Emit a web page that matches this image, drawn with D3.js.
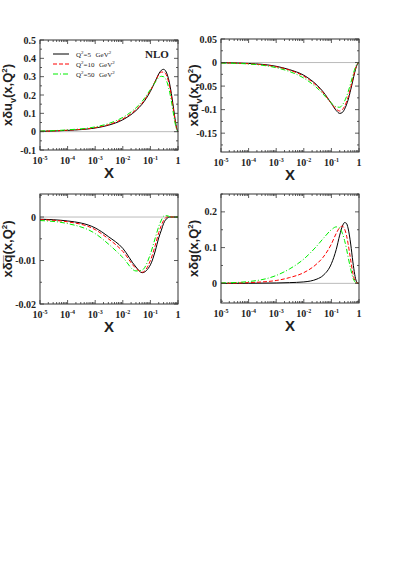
<!DOCTYPE html>
<html>
<head>
<meta charset="utf-8">
<script src="https://cdn.jsdelivr.net/npm/d3@7"></script>
<style>
  body { margin: 0; background: #fff; }
  svg { display: block; }
  .tick-lbl { font-family: "Liberation Serif", serif; font-size: 10px; font-weight: bold; fill: #222; }
  .ylab { font-family: "Liberation Sans", Arial, sans-serif; font-size: 13px; font-weight: bold; fill: #222; }
  .xlab { font-family: "Liberation Sans", Arial, sans-serif; font-size: 15px; font-weight: bold; fill: #222; }
  .leg { font-family: "Liberation Serif", serif; font-size: 7px; fill: #222; }
</style>
</head>
<body>
<svg width="399" height="564"></svg>
<script>
// x grid shared by all curves
var xs = [1e-5, 1e-4, 1e-3, 3e-3, 1e-2, 3e-2, 0.05, 0.1, 0.15, 0.2, 0.25, 0.3, 0.35, 0.4, 0.5, 0.6, 0.7, 0.8, 0.9, 1];

var seriesNames = ["Q2=5", "Q2=10", "Q2=50"];

// x delta u_v
var uv5  = [0.002, 0.007, 0.02, 0.035, 0.065, 0.115, 0.15, 0.22, 0.275, 0.315, 0.335, 0.34, 0.333, 0.315, 0.26, 0.19, 0.12, 0.06, 0.018, 0];
var uv10 = [0.002, 0.008, 0.022, 0.038, 0.07, 0.12, 0.155, 0.225, 0.275, 0.31, 0.325, 0.325, 0.318, 0.3, 0.245, 0.175, 0.108, 0.052, 0.015, 0];
var uv50 = [0.003, 0.01, 0.026, 0.044, 0.078, 0.13, 0.165, 0.23, 0.27, 0.295, 0.302, 0.3, 0.29, 0.27, 0.215, 0.15, 0.088, 0.04, 0.01, 0];

// x delta d_v
var dv5  = [-0.0005, -0.002, -0.008, -0.015, -0.027, -0.048, -0.062, -0.087, -0.102, -0.108, -0.106, -0.099, -0.09, -0.08, -0.058, -0.038, -0.021, -0.009, -0.002, 0];
var dv10 = [-0.0006, -0.0025, -0.009, -0.016, -0.029, -0.05, -0.064, -0.087, -0.099, -0.103, -0.1, -0.093, -0.084, -0.074, -0.053, -0.034, -0.018, -0.008, -0.002, 0];
var dv50 = [-0.001, -0.003, -0.011, -0.019, -0.033, -0.054, -0.067, -0.086, -0.094, -0.095, -0.09, -0.082, -0.073, -0.063, -0.044, -0.027, -0.014, -0.006, -0.0015, 0];

// x delta qbar
var qb5  = [-0.0005, -0.0009, -0.0025, -0.0045, -0.0072, -0.0115, -0.0128, -0.011, -0.0078, -0.0048, -0.003, -0.0015, -0.0007, -0.0003, 0, 0, 0, 0, 0, 0];
var qb10 = [-0.0006, -0.0011, -0.0029, -0.005, -0.0079, -0.0118, -0.0127, -0.01, -0.0065, -0.0036, -0.0019, -0.0008, -0.0002, 0, 0.0001, 0, 0, 0, 0, 0];
var qb50 = [-0.0008, -0.0015, -0.0038, -0.0062, -0.0093, -0.0124, -0.0122, -0.0085, -0.0048, -0.0022, -0.0007, 0.0002, 0.0003, 0.0003, 0.0001, 0, 0, 0, 0, 0];

// x delta g
var g5  = [0, 0.0003, 0.001, 0.002, 0.004, 0.012, 0.022, 0.055, 0.095, 0.135, 0.16, 0.17, 0.168, 0.155, 0.11, 0.06, 0.025, 0.006, 0.001, 0];
var g10 = [0.0003, 0.002, 0.008, 0.016, 0.03, 0.055, 0.073, 0.11, 0.14, 0.156, 0.16, 0.152, 0.135, 0.112, 0.065, 0.028, 0.009, 0.002, 0, 0];
var g50 = [0.001, 0.005, 0.022, 0.04, 0.068, 0.105, 0.125, 0.15, 0.158, 0.155, 0.14, 0.12, 0.098, 0.075, 0.04, 0.016, 0.005, 0.001, 0, 0];

var xTicks = [1e-5, 1e-4, 1e-3, 1e-2, 1e-1, 1];

var svg = d3.select("svg");

var styles = [
  {color: "#000", dash: null, width: 1},
  {color: "#ff0000", dash: "4,2", width: 1},
  {color: "#00ee00", dash: "5,2,1,2", width: 1}
];

function drawPanel(p) {
  var x = d3.scaleLog().domain([1e-5, 1]).range([p.x0, p.x1]);
  var y = d3.scaleLinear().domain(p.ydom).range([p.y1, p.y0]);
  var g = svg.append("g");

  // zero line
  g.append("line")
    .attr("x1", p.x0).attr("x2", p.x1)
    .attr("y1", y(0)).attr("y2", y(0))
    .attr("stroke", "#aaa").attr("stroke-width", 0.8);

  var line = d3.line()
    .x(function(d) { return x(d[0]); })
    .y(function(d) { return y(d[1]); })
    .curve(d3.curveMonotoneX);

  p.series.forEach(function(vals, i) {
    var pts = xs.map(function(v, k) { return [v, vals[k]]; });
    g.append("path")
      .attr("d", line(pts))
      .attr("fill", "none")
      .attr("stroke", styles[i].color)
      .attr("stroke-width", styles[i].width)
      .attr("stroke-dasharray", styles[i].dash);
  });

  // frame
  g.append("rect")
    .attr("x", p.x0).attr("y", p.y0)
    .attr("width", p.x1 - p.x0).attr("height", p.y1 - p.y0)
    .attr("fill", "none").attr("stroke", "#333").attr("stroke-width", 1);

  // x ticks (major + minor, bottom and top, inward)
  for (var e = -5; e <= 0; e++) {
    for (var m = 1; m <= 9; m++) {
      var v = m * Math.pow(10, e);
      if (v > 1) break;
      var len = m == 1 ? 4 : 2;
      var px = x(v);
      g.append("line").attr("x1", px).attr("x2", px).attr("y1", p.y1).attr("y2", p.y1 - len).attr("stroke", "#333").attr("stroke-width", 0.8);
      g.append("line").attr("x1", px).attr("x2", px).attr("y1", p.y0).attr("y2", p.y0 + len).attr("stroke", "#333").attr("stroke-width", 0.8);
    }
  }

  // y ticks, every other one is major
  var start = Math.ceil(p.ydom[0] / p.minor - 1e-6);
  var stop = Math.floor(p.ydom[1] / p.minor + 1e-6);
  for (var k = start; k <= stop; k++) {
    var val = k * p.minor;
    var major = Math.abs(k % 2) == 0;
    var py = y(val);
    var ln = major ? 4 : 2;
    g.append("line").attr("x1", p.x0).attr("x2", p.x0 + ln).attr("y1", py).attr("y2", py).attr("stroke", "#333").attr("stroke-width", 0.8);
    g.append("line").attr("x1", p.x1).attr("x2", p.x1 - ln).attr("y1", py).attr("y2", py).attr("stroke", "#333").attr("stroke-width", 0.8);
  }

  // y tick labels
  p.ylabels.forEach(function(t) {
    g.append("text").attr("class", "tick-lbl")
      .attr("x", p.x0 - 4).attr("y", y(t.v) + 3.5)
      .attr("text-anchor", "end").text(t.s);
  });

  // x tick labels
  xTicks.forEach(function(v) {
    var e = Math.round(Math.log10(v));
    var t = g.append("text").attr("class", "tick-lbl")
      .attr("x", x(v)).attr("y", p.y1 + 14).attr("text-anchor", "middle");
    if (e == 0) {
      t.text("1");
    } else {
      t.append("tspan").text("10");
      t.append("tspan").attr("dy", -4).attr("font-size", "6px").text(e);
    }
  });

  // axis titles
  g.append("text").attr("class", "xlab")
    .attr("x", (p.x0 + p.x1) / 2).attr("y", p.y1 + 28)
    .attr("text-anchor", "middle").text("X");

  var yl = g.append("text").attr("class", "ylab")
    .attr("transform", "translate(" + p.ylx + "," + ((p.y0 + p.y1) / 2) + ") rotate(-90)")
    .attr("text-anchor", "middle");
  yl.append("tspan").text("x\u03b4" + (p.overline ? p.parton + "\u0305" : p.parton));
  if (p.sub) {
    yl.append("tspan").attr("dy", 4).attr("font-size", "9px").text(p.sub);
    yl.append("tspan").attr("dy", -4).text("(x,Q");
  } else {
    yl.append("tspan").text("(x,Q");
  }
  yl.append("tspan").attr("dy", -5).attr("font-size", "8px").text("2");
  yl.append("tspan").attr("dy", 5).text(")");

  return {x: x, y: y};
}

drawPanel({x0: 40, x1: 178, y0: 40, y1: 150, ydom: [-0.1, 0.5], minor: 0.05,
  ylabels: [{v: 0.5, s: "0.5"}, {v: 0.4, s: "0.4"}, {v: 0.3, s: "0.3"}, {v: 0.2, s: "0.2"}, {v: 0.1, s: "0.1"}, {v: 0, s: "0"}, {v: -0.1, s: "-0.1"}],
  series: [uv5, uv10, uv50], parton: "u", sub: "v", ylx: 12});

drawPanel({x0: 221, x1: 359, y0: 39, y1: 152, ydom: [-0.19, 0.05], minor: 0.025,
  ylabels: [{v: 0.05, s: "0.05"}, {v: 0, s: "0"}, {v: -0.05, s: "-0.05"}, {v: -0.1, s: "-0.1"}, {v: -0.15, s: "-0.15"}],
  series: [dv5, dv10, dv50], parton: "d", sub: "v", ylx: 198});

drawPanel({x0: 40, x1: 178, y0: 194, y1: 304, ydom: [-0.02, 0.0053], minor: 0.005,
  ylabels: [{v: 0, s: "0"}, {v: -0.01, s: "-0.01"}, {v: -0.02, s: "-0.02"}],
  series: [qb5, qb10, qb50], parton: "q", overline: true, ylx: 12});

drawPanel({x0: 221, x1: 359, y0: 194, y1: 303, ydom: [-0.055, 0.25], minor: 0.05,
  ylabels: [{v: 0.2, s: "0.2"}, {v: 0.1, s: "0.1"}, {v: 0, s: "0"}],
  series: [g5, g10, g50], parton: "g", ylx: 198});

// legend in first panel
var legLabels = ["5", "10", "50"];
legLabels.forEach(function(q, i) {
  var ly = 54 + i * 10;
  svg.append("line").attr("x1", 53).attr("x2", 69).attr("y1", ly).attr("y2", ly)
    .attr("stroke", styles[i].color).attr("stroke-width", 1)
    .attr("stroke-dasharray", styles[i].dash);
  var t = svg.append("text").attr("class", "leg").attr("x", 76).attr("y", ly + 2.5);
  t.append("tspan").text("Q");
  t.append("tspan").attr("dy", -3).attr("font-size", "5px").text("2");
  t.append("tspan").attr("dy", 3).text("=" + q + "\u2009\u2009 GeV");
  t.append("tspan").attr("dy", -3).attr("font-size", "5px").text("2");
});

svg.append("text").attr("x", 145).attr("y", 58)
  .attr("font-family", "Liberation Serif, serif").attr("font-size", "11px")
  .attr("font-weight", "bold").attr("fill", "#222").text("NLO");
</script>
</body>
</html>
